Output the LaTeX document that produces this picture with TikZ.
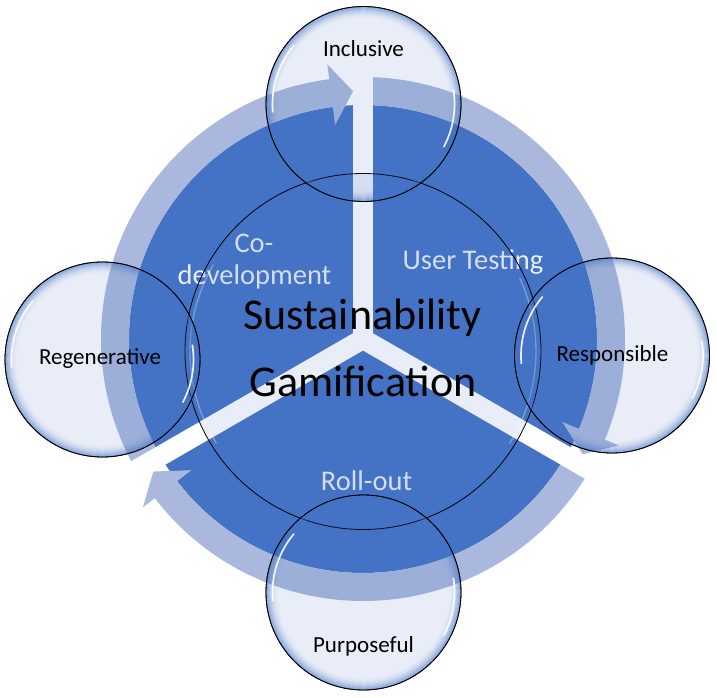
\documentclass[tikz,border=0pt]{standalone}
\usepackage{fontspec}
\setmainfont{Carlito}
\definecolor{pie}{RGB}{68,114,196}
\definecolor{ring}{RGB}{169,184,220}
\definecolor{lbl}{RGB}{233,238,247}
\tikzset{
  glass/.style={circle, inner sep=0pt, fill=pie, fill opacity=0.12, draw=black, line width=0.8pt, draw opacity=1},
  segtext/.style={anchor=base, text=lbl, font=\fontsize{28.5}{32}\selectfont},
  smalltext/.style={anchor=base, text=black, font=\fontsize{23}{26}\selectfont},
  bigtext/.style={anchor=base, text=black, font=\fontsize{44}{48}\selectfont},
  hilite/.style={white, line width=1.7pt, line cap=round, opacity=0.9}
}
\begin{document}
\begin{tikzpicture}[x=1pt,y=1pt]
\useasboundingbox (-363,-359) rectangle (354,339);
\fill[white] (-363,-359) rectangle (354,339);
% pie
\fill[pie] (0,0) circle (234);
% circular arrows
\foreach \s/\e [evaluate=\e as \h using \e+7.4, evaluate=\e as \t using \e+2.3] in {210/90, 90/-30, -30/-150}{
  \fill[ring] (\s:262) arc[start angle=\s, end angle=\h, radius=262] -- (\h:277) -- (\t:248) -- (\h:216) -- (\h:234) arc[start angle=\h, end angle=\s, radius=234] -- cycle;
}
% gaps
\foreach \a in {90,210,330}{
  \draw[white, line width=20pt] (0,0) -- (\a:295);
}
% segment labels
\node[segtext] (tco) at (-109,86) {Co-};
\node[segtext] (tdev) at (-108.5,54) {development};
\node[segtext] (tuser) at (110,69) {User Testing};
\node[segtext] (troll) at (3.5,-151) {Roll-out};
% central circle
\node[glass, minimum size=356pt] (core) at (0,-12.5) {};
\draw[hilite, opacity=0.3, line width=1.4pt] (core.center) ++(150:173) arc[start angle=150, end angle=212, radius=173];
\draw[hilite, opacity=0.3, line width=1.4pt] (core.center) ++(-32:173) arc[start angle=-32, end angle=25, radius=173];
% satellite circles
\foreach \n/\x/\y in {inc/0.5/235, pur/0.5/-253.5, reg/-260.5/-20.5, res/249/-16.5}{
  \node[glass, minimum size=195pt] (\n) at (\x,\y) {};
  \foreach \i [evaluate=\i as \op using {0.5*(1-\i/12)^2}] in {0,...,11}{
    \draw[pie, line width=1.2pt, opacity=\op] (\n.center) circle ({96.9-\i});
  }
  \draw[hilite] (\n.center) ++(140:91) arc[start angle=140, end angle=185, radius=91];
  \draw[hilite] (\n.center) ++(-28:91) arc[start angle=-28, end angle=9, radius=91];
  \draw[black, line width=0.8pt] (\n.center) circle (97.5);
}
% texts
\node[bigtext] (tsus) at (-0.5,9) {Sustainability};
\node[bigtext] (tgam) at (0,-58) {Gamification};
\node[smalltext] (tinc) at (0.5,282) {Inclusive};
\node[smalltext] (treg) at (-263,-26) {Regenerative};
\node[smalltext] (tres) at (249.5,-23) {Responsible};
\node[smalltext] (tpur) at (0.5,-313) {Purposeful};
\end{tikzpicture}
\end{document}
